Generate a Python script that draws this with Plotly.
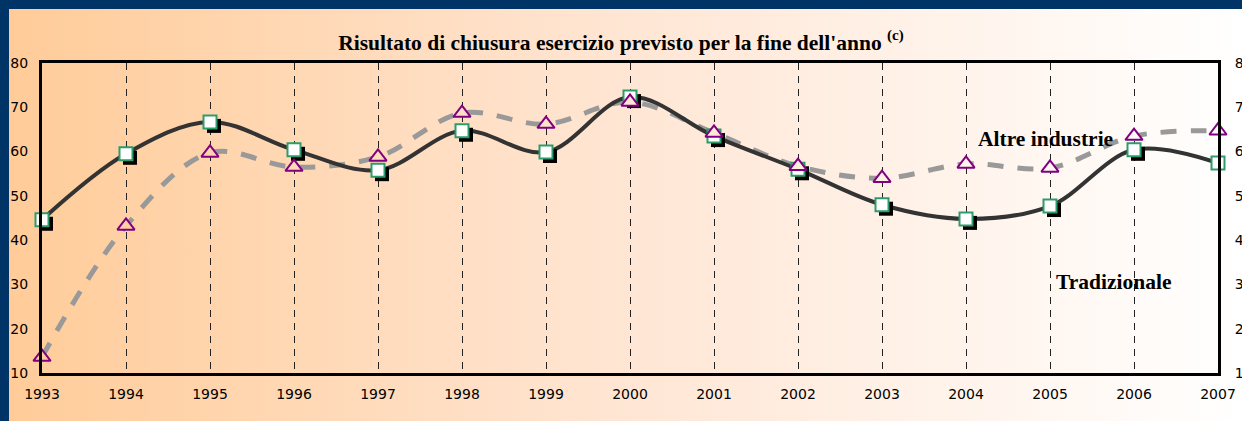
import plotly.graph_objects as go

years = list(range(1993, 2008))
tradizionale = [44.6, 59.5, 66.7, 60.4, 55.8, 64.7, 59.9, 72.3, 63.5, 56.0, 48.0, 44.8, 47.7, 60.4, 57.4]
altre = [13.6, 43.2, 59.7, 56.5, 58.8, 68.7, 66.2, 71.2, 64.2, 56.7, 54.0, 57.2, 56.3, 63.5, 64.7]

title_text = "Risultato di chiusura esercizio previsto per la fine dell'anno <sup>(c)</sup>"
label_altre = "Altre industrie"
label_trad = "Tradizionale"

W, H = 1242, 421
ml, mr, mt, mb = 42, 24, 63, 48
pw, ph = W - ml - mr, H - mt - mb
yr = (10, 80)
xr = (1993, 2007)
sx = 4 * (xr[1] - xr[0]) / pw
sy = 4 * (yr[1] - yr[0]) / ph
BORDER = 9

stops = [(0.0, (255, 204, 153)), (0.5, (255, 230, 212)), (1.0, (255, 255, 255))]


def bg_at(px):
    t = min(max((px - BORDER) / (W - BORDER), 0), 1)
    for (t0, c0), (t1, c1) in zip(stops[:-1], stops[1:]):
        if t <= t1:
            f = (t - t0) / (t1 - t0)
            return "rgb(%d,%d,%d)" % tuple(round(a + (b - a) * f) for a, b in zip(c0, c1))
    return "white"


tri_fill = [bg_at(ml + (x - xr[0]) / (xr[1] - xr[0]) * pw) for x in years]

svg = ("data:image/svg+xml;utf8,<svg xmlns='http://www.w3.org/2000/svg' width='100' height='100' preserveAspectRatio='none'>"
       "<defs><linearGradient id='g' x1='0' y1='0' x2='1' y2='0'>"
       "<stop offset='0' stop-color='%23FFCC99'/><stop offset='0.5' stop-color='%23FFE6D4'/>"
       "<stop offset='1' stop-color='%23FFFFFF'/></linearGradient></defs>"
       "<rect width='100' height='100' fill='url(%23g)'/></svg>")

fig = go.Figure()
fig.add_trace(go.Scatter(x=years, y=altre, mode="lines", line=dict(color="#999999", width=5, dash="16px,14px", shape="spline", smoothing=1), cliponaxis=False, hoverinfo="skip"))
fig.add_trace(go.Scatter(x=years, y=tradizionale, mode="lines", line=dict(color="#333333", width=4, shape="spline", smoothing=1), cliponaxis=False, hoverinfo="skip"))
fig.add_trace(go.Scatter(x=years, y=tradizionale, mode="markers", xaxis="x3", yaxis="y3",
                         marker=dict(symbol="square", size=14, color="black", line=dict(width=0)), cliponaxis=False))
fig.add_trace(go.Scatter(x=years, y=tradizionale, mode="markers", xaxis="x4", yaxis="y4",
                         marker=dict(symbol="square", size=13, color="white", line=dict(color="#2E9B6A", width=2)), cliponaxis=False))
fig.add_trace(go.Scatter(x=years, y=altre, mode="markers", xaxis="x4", yaxis="y4",
                         marker=dict(symbol="triangle-up", size=15, color=tri_fill, line=dict(color="#800080", width=2)), cliponaxis=False))
fig.add_trace(go.Scatter(x=years, y=altre, mode="markers", yaxis="y2", marker=dict(opacity=0), hoverinfo="skip"))

tickfont = dict(family="DejaVu Sans", size=14, color="black")
fig.update_layout(
    width=W, height=H,
    margin=dict(l=ml, r=mr, t=mt, b=mb, autoexpand=False),
    paper_bgcolor="#003366",
    plot_bgcolor="rgba(0,0,0,0)",
    showlegend=False,
    title=dict(text=title_text, x=0.5, xanchor="center", y=1 - 42 / H, yanchor="middle",
               font=dict(family="Liberation Serif", size=21.5, color="black", weight="bold")),
    xaxis=dict(range=list(xr), tickmode="array", tickvals=years, ticktext=[str(y) for y in years],
               tickfont=tickfont, showgrid=True, gridcolor="#222222", griddash="7px,6px", gridwidth=1,
               showline=True, linecolor="black", linewidth=3, mirror=True, zeroline=False, automargin=False,
               ticks="outside", ticklen=6, tickcolor="rgba(0,0,0,0)"),
    yaxis=dict(range=list(yr), dtick=10, tickfont=tickfont, showgrid=False, zeroline=False, automargin=False,
               showline=True, linecolor="black", linewidth=3, mirror=True,
               ticks="outside", ticklen=8, tickcolor="rgba(0,0,0,0)"),
    yaxis2=dict(range=list(yr), dtick=10, tickfont=tickfont, overlaying="y", side="right", automargin=False,
                showgrid=False, zeroline=False, ticks="outside", ticklen=13, tickcolor="rgba(0,0,0,0)"),
    xaxis3=dict(range=[xr[0] - sx, xr[1] - sx], overlaying="x", visible=False, automargin=False),
    yaxis3=dict(range=[yr[0] + sy, yr[1] + sy], overlaying="y", visible=False, automargin=False),
    xaxis4=dict(range=list(xr), overlaying="x", visible=False, automargin=False),
    yaxis4=dict(range=list(yr), overlaying="y", visible=False, automargin=False),
    images=[dict(source=svg, xref="paper", yref="paper",
                 x=(BORDER - ml) / pw, y=(H - mb - BORDER) / ph, sizex=(W - BORDER) / pw, sizey=(H - BORDER) / ph,
                 xanchor="left", yanchor="top", sizing="stretch", layer="below")],
    annotations=[
        dict(text=label_altre, x=2004.95, y=62.8, xref="x", yref="y", showarrow=False,
             font=dict(family="Liberation Serif", size=21.5, color="black", weight="bold")),
        dict(text=label_trad, x=2005.75, y=30.5, xref="x", yref="y", showarrow=False,
             font=dict(family="Liberation Serif", size=21.5, color="black", weight="bold")),
    ],
)
fig.write_html("out.html", config={"displayModeBar": False},
               post_script="document.body.style.margin='0';document.body.style.background='#003366';")
